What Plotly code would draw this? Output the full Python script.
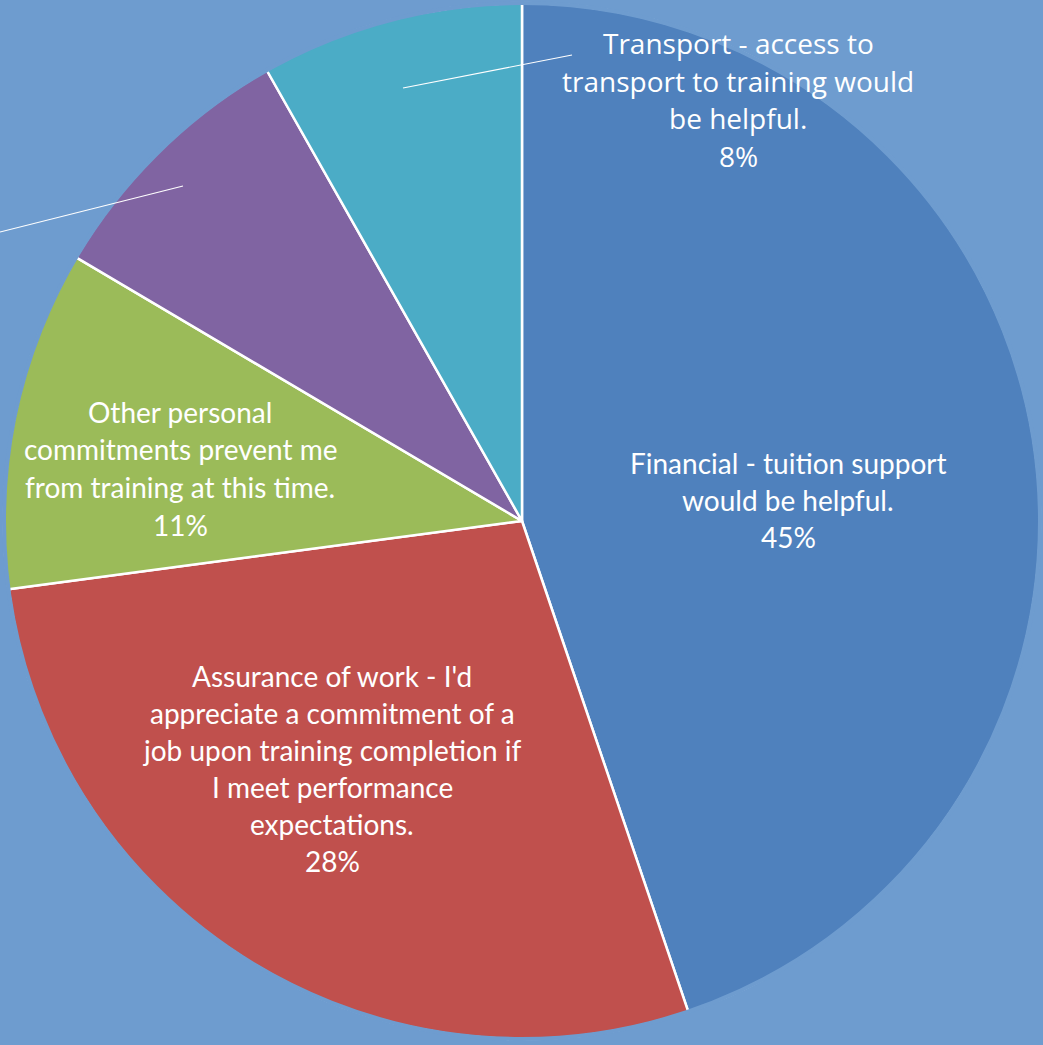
import plotly.graph_objects as go

# ---- data ----
categories = [
    "Financial - tuition support would be helpful.",
    "Assurance of work - I'd appreciate a commitment of a job upon training completion if I meet performance expectations.",
    "Other personal commitments prevent me from training at this time.",
    "(label outside view)",
    "Transport - access to transport to training would be helpful.",
]
values = [44.8, 28.1, 10.6, 8.3, 8.2]
colors = ["#4F81BD", "#C0504D", "#9BBB59", "#8064A2", "#4BACC6"]

# label text split into display lines (None = label not in view)
label_lines = [
    ["Financial - tuition support", "would be helpful."],
    ["Assurance of work - I'd", "appreciate a commitment of a", "job upon training completion if",
     "I meet performance", "expectations."],
    ["Other personal", "commitments prevent me", "from training at this time."],
    None,
    ["Transport - access to", "transport to training would", "be helpful."],
]

# ---- layout / style ----
W, H = 1043, 1045
BG = "#6E9CCF"
cx, cy, R = 522, 521, 518  # pie centre / radius in px

dx0, dx1 = (cx - R) / W, (cx + R) / W
dy0, dy1 = (H - cy - R) / H, (H - cy + R) / H

fig = go.Figure(go.Pie(
    labels=categories,
    values=values,
    sort=False,
    direction="clockwise",
    rotation=0,
    marker=dict(colors=colors, line=dict(color="white", width=2.5)),
    textinfo="none",
    hoverinfo="label+percent",
    showlegend=False,
    domain=dict(x=[dx0, dx1], y=[dy0, dy1]),
))

def px(x):
    return x / W

def py(y):
    return 1 - y / H

# label placement (px): centre x, first-line y, line step, font
label_pos = [
    dict(x=788, y=463, step=37, font="Lato", size=28),
    dict(x=332, y=676, step=37, font="Lato", size=28),
    dict(x=180, y=412, step=37.5, font="Lato", size=28),
    None,
    dict(x=738, y=43, step=37.5, font="Open Sans", size=28),
]

annotations = []
for lines, v, pos in zip(label_lines, values, label_pos):
    if lines is None or pos is None:
        continue
    all_lines = lines + [f"{round(v)}%"]
    for i, t in enumerate(all_lines):
        annotations.append(dict(
            x=px(pos["x"]), y=py(pos["y"] + i * pos["step"]),
            xref="paper", yref="paper", text=t, showarrow=False,
            xanchor="center", yanchor="middle",
            font=dict(family=pos["font"], size=pos["size"], color="white"),
        ))

shapes = [
    # hide outer white outline of the pie
    dict(type="circle", xref="paper", yref="paper",
         x0=dx0, x1=dx1, y0=dy0, y1=dy1,
         line=dict(color=BG, width=4), layer="above"),
    # leader lines
    dict(type="line", xref="paper", yref="paper",
         x0=px(403), y0=py(88), x1=px(572), y1=py(55),
         line=dict(color="white", width=1.2)),
    dict(type="line", xref="paper", yref="paper",
         x0=px(183), y0=py(186), x1=px(0), y1=py(232),
         line=dict(color="white", width=1.2)),
]

fig.update_layout(
    width=W, height=H,
    margin=dict(l=0, r=0, t=0, b=0),
    paper_bgcolor=BG, plot_bgcolor=BG,
    annotations=annotations,
    shapes=shapes,
)

fig.write_html(
    "out.html",
    config={"displayModeBar": False},
    post_script="document.body.style.margin='0';document.body.style.background='" + BG + "';",
)
